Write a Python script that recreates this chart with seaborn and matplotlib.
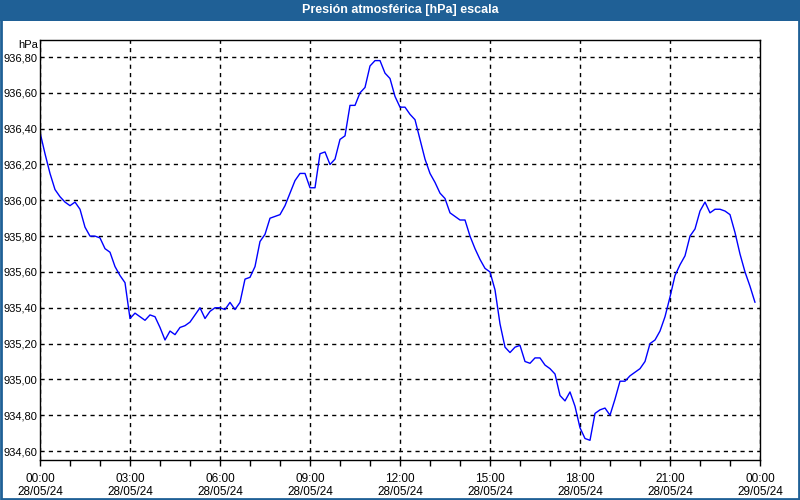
import numpy as np
import pandas as pd
import matplotlib
matplotlib.use("Agg")
import matplotlib.pyplot as plt
import matplotlib.dates as mdates
from matplotlib.ticker import FuncFormatter, MultipleLocator
from matplotlib.patches import Rectangle
import seaborn as sns

title = "Presión atmosférica [hPa] escala"
unit_label = "hPa"
start_time = "2024-05-28 00:00"
end_time = "2024-05-29 00:00"

pressure = [
    936.38, 936.26, 936.15, 936.06, 936.02, 935.99, 935.97, 935.99, 935.95, 935.85,
    935.80, 935.80, 935.79, 935.73, 935.71, 935.63, 935.58, 935.54, 935.34, 935.37,
    935.35, 935.33, 935.36, 935.35, 935.29, 935.22, 935.27, 935.25, 935.29, 935.30,
    935.32, 935.36, 935.40, 935.34, 935.38, 935.40, 935.40, 935.39, 935.43, 935.39,
    935.43, 935.56, 935.57, 935.63, 935.77, 935.81, 935.90, 935.91, 935.92, 935.97,
    936.04, 936.11, 936.15, 936.15, 936.07, 936.07, 936.26, 936.27, 936.20, 936.23,
    936.34, 936.36, 936.53, 936.53, 936.60, 936.63, 936.75, 936.78, 936.78, 936.71,
    936.68, 936.58, 936.52, 936.52, 936.48, 936.45, 936.34, 936.23, 936.15, 936.10,
    936.04, 936.01, 935.93, 935.91, 935.89, 935.89, 935.80, 935.73, 935.67, 935.62,
    935.60, 935.50, 935.31, 935.18, 935.15, 935.18, 935.19, 935.10, 935.09, 935.12,
    935.12, 935.08, 935.06, 935.03, 934.91, 934.88, 934.93, 934.85, 934.73, 934.67,
    934.66, 934.81, 934.83, 934.84, 934.80, 934.89, 934.99, 934.99, 935.02, 935.04,
    935.06, 935.10, 935.20, 935.22, 935.27, 935.35, 935.46, 935.58, 935.64, 935.69,
    935.80, 935.84, 935.94, 935.99, 935.93, 935.95, 935.95, 935.94, 935.92, 935.82,
    935.70, 935.60, 935.52, 935.43,
]

times = pd.date_range(start_time, periods=len(pressure), freq="10min")
df = pd.DataFrame({"time": times, "pressure": pressure})

sns.set_theme(style="white")
plt.rcParams["font.family"] = ["Liberation Sans", "DejaVu Sans"]

fig = plt.figure(figsize=(8, 5), dpi=100)
fig.patch.set_facecolor("white")
ax = fig.add_axes([0.05, 0.08, 0.90, 0.84])
ax.set_facecolor("white")

sns.lineplot(data=df, x="time", y="pressure", ax=ax, color="#0000FF", linewidth=1.0)

ax.set_xlim(pd.Timestamp(start_time), pd.Timestamp(end_time))
ax.set_ylim(934.55, 936.895)

ax.xaxis.set_major_locator(mdates.HourLocator(byhour=range(0, 24, 3)))
ax.xaxis.set_minor_locator(mdates.HourLocator())
ax.xaxis.set_major_formatter(mdates.DateFormatter("%H:%M\n%d/%m/%y"))
ax.yaxis.set_major_locator(MultipleLocator(0.2))
ax.yaxis.set_major_formatter(FuncFormatter(lambda v, p: f"{v:.2f}".replace(".", ",")))

ax.grid(True, which="major", color="black", linestyle=(0, (3, 3)), linewidth=1.0)
for s in ax.spines.values():
    s.set_color("black")
    s.set_linewidth(1.0)
    s.set_visible(True)

ax.tick_params(axis="x", which="both", direction="out", length=4, width=1,
               color="black", bottom=True, labelsize=8.5, labelcolor="black", pad=5)
ax.tick_params(axis="y", which="both", length=0, labelsize=8, labelcolor="black", pad=2)
ax.set_xlabel("")
ax.set_ylabel("")

fig.text(0.0475, 0.91, unit_label, ha="right", va="center", fontsize=8, color="black")

# title bar and frame
fig.patches.append(Rectangle((0, 0.958), 1, 0.042, transform=fig.transFigure,
                             facecolor="#1F6096", edgecolor="none", zorder=0))
fig.patches.append(Rectangle((0.001, 0.002), 0.998, 0.996, transform=fig.transFigure,
                             facecolor="none", edgecolor="#1F6096", linewidth=2, zorder=5))
fig.text(0.5, 0.979, title, ha="center", va="center", fontsize=9,
         fontweight="bold", color="white")

fig.savefig("out.png", dpi=100, facecolor="white")
